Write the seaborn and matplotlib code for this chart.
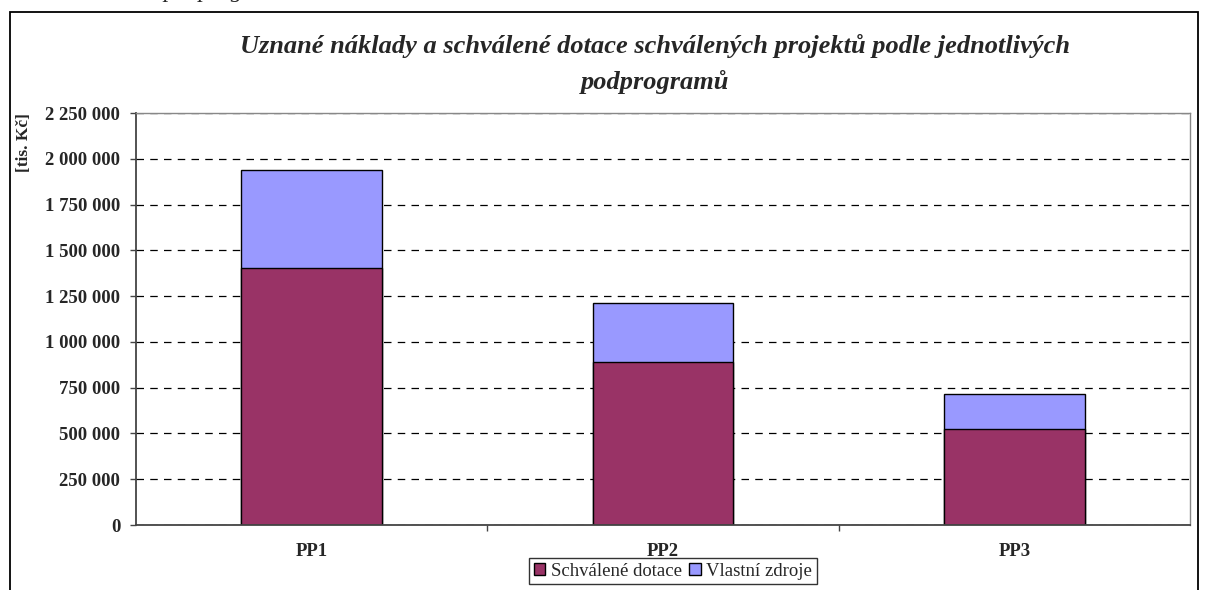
import pandas as pd
import numpy as np
import seaborn as sns
import matplotlib.pyplot as plt
from matplotlib.patches import Rectangle
from matplotlib.ticker import FuncFormatter, FixedLocator

# data (tis. Kč)
categories = ['PP1', 'PP2', 'PP3']
schvalene_dotace = [1402000, 889000, 527000]
vlastni_zdroje = [535000, 322000, 191000]

df = pd.DataFrame({'Podprogram': categories,
                   'Schválené dotace': schvalene_dotace,
                   'Vlastní zdroje': vlastni_zdroje})
df['Celkem'] = df['Schválené dotace'] + df['Vlastní zdroje']

sns.set_style('white')
plt.rcParams['font.family'] = ['Liberation Serif', 'DejaVu Serif']

fig = plt.figure(figsize=(12.06, 5.9), dpi=100)
ax = fig.add_axes([136 / 1206, 1 - 525 / 590, (1190 - 136) / 1206, (525 - 113) / 590])

# stacked bars: total first, then the dotace part on top of it
sns.barplot(data=df, x='Podprogram', y='Celkem', color='#9999FF', saturation=1,
            width=0.4, edgecolor='black', linewidth=1, ax=ax, label='Vlastní zdroje')
sns.barplot(data=df, x='Podprogram', y='Schválené dotace', color='#993366', saturation=1,
            width=0.4, edgecolor='black', linewidth=1, ax=ax, label='Schválené dotace')

ax.set_xlim(-0.5, 2.5)
ax.set_ylim(0, 2250000)
ax.set_yticks(np.arange(0, 2250001, 250000))
ax.yaxis.set_major_formatter(FuncFormatter(lambda v, p: f'{int(v):,}'.replace(',', ' ')))
ax.yaxis.grid(True, linestyle=(0, (6, 5)), color='black', linewidth=0.9)
ax.set_axisbelow(True)

ax.set_xlabel('')
ax.set_ylabel('')
ax.tick_params(axis='x', length=0, pad=13, labelsize=13.5)
ax.tick_params(axis='y', left=True, length=4.3, width=1, color='#444444', labelsize=13.5, pad=7)
for lab in ax.get_xticklabels() + ax.get_yticklabels():
    lab.set_fontweight('bold')
ax.xaxis.set_minor_locator(FixedLocator([0.5, 1.5]))
ax.tick_params(axis='x', which='minor', bottom=True, length=4.3, width=1, color='#444444')

for side in ['left', 'bottom']:
    ax.spines[side].set_color('#444444')
    ax.spines[side].set_linewidth(1.3)
for side in ['top', 'right']:
    ax.spines[side].set_color('#888888')
    ax.spines[side].set_linewidth(1)

# legend below the chart
handles, labels = ax.get_legend_handles_labels()
order = [labels.index('Schválené dotace'), labels.index('Vlastní zdroje')]
if ax.legend_:
    ax.legend_.remove()
leg = fig.legend([handles[i] for i in order], [labels[i] for i in order],
                 loc='upper center', bbox_to_anchor=(673 / 1206, 1 - 558 / 590),
                 ncol=2, frameon=True, fancybox=False, fontsize=13.5,
                 handlelength=0.6, handleheight=0.6, handletextpad=0.3,
                 columnspacing=0.4, borderpad=0.25, borderaxespad=0)
leg.get_frame().set_edgecolor('black')
leg.get_frame().set_linewidth(1)

# title and unit
fig.text(655 / 1206, 1 - 64 / 590,
         'Uznané náklady a schválené dotace schválených projektů podle jednotlivých\npodprogramů',
         ha='center', va='center', fontsize=19, fontweight='bold', fontstyle='italic',
         linespacing=1.6)
fig.text(24 / 1206, 1 - 143 / 590, '[tis. Kč]', rotation=90, ha='center', va='center',
         fontsize=12.5, fontweight='bold')

# outer chart border and clipped text from the page above
fig.patches.append(Rectangle((10 / 1206, -0.05), 1188 / 1206, 1.05 - 12 / 590,
                             transform=fig.transFigure, fill=False,
                             edgecolor='black', linewidth=1.3))
fig.text(163 / 1206, 1 + 3 / 590, 'podprogramů', ha='left', va='baseline',
         fontsize=17, fontstyle='italic')

fig.savefig('out.png', dpi=100)
